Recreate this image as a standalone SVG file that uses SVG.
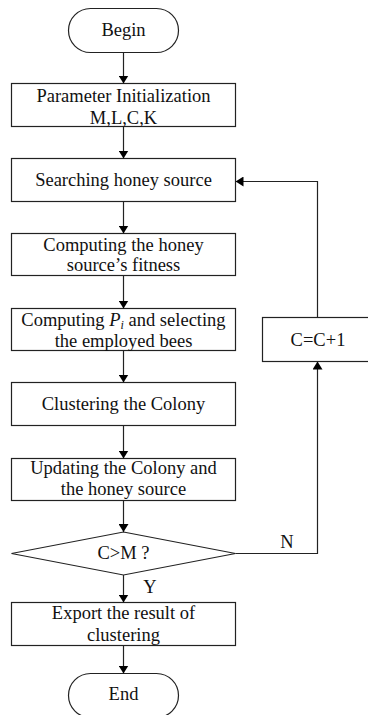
<svg xmlns="http://www.w3.org/2000/svg" width="368" height="715" viewBox="0 0 368 715">
<defs>
<marker id="ah" viewBox="0 0 8 10" refX="8" refY="5" markerWidth="8" markerHeight="10" markerUnits="userSpaceOnUse" orient="auto">
<path d="M0,0 L8,5 L0,10 Z" fill="#000"/>
</marker>
</defs>
<style>
.s{fill:#fff;stroke:#222;stroke-width:1.2}
.t{font-size:18.5px;fill:#111;text-anchor:middle}
.c{fill:none;stroke:#222;stroke-width:1.2;marker-end:url(#ah)}
.l{fill:none;stroke:#222;stroke-width:1.2}
</style>
<rect width="368" height="715" fill="#fff"/>
<g font-family="Liberation Serif, Times New Roman, serif">
<g id="begin"><rect class="s" x="68.5" y="8.5" width="110" height="44" rx="22" ry="22"/><text class="t" x="123.5" y="36">Begin</text></g>
<g id="init"><rect class="s" x="11.5" y="83.5" width="224" height="43"/><text class="t" x="123.5" y="102">Parameter Initialization</text><text class="t" x="123.5" y="124">M,L,C,K</text></g>
<g id="search"><rect class="s" x="11.5" y="158.5" width="224" height="43"/><text class="t" x="123.5" y="186">Searching honey source</text></g>
<g id="fitness"><rect class="s" x="11.5" y="233.5" width="224" height="42"/><text class="t" x="123.5" y="251">Computing the honey</text><text class="t" x="123.5" y="271">source’s fitness</text></g>
<g id="pi"><rect class="s" x="11.5" y="308.5" width="224" height="42"/><text class="t" x="123.5" y="326">Computing <tspan font-style="italic">P</tspan><tspan font-style="italic" font-size="12" dy="3">i</tspan><tspan dy="-3"> and selecting</tspan></text><text class="t" x="123.5" y="347">the employed bees</text></g>
<g id="cluster"><rect class="s" x="11.5" y="382.5" width="224" height="43"/><text class="t" x="123.5" y="410">Clustering the Colony</text></g>
<g id="update"><rect class="s" x="11.5" y="458.5" width="224" height="42"/><text class="t" x="123.5" y="474">Updating the Colony and</text><text class="t" x="123.5" y="495">the honey source</text></g>
<g id="decision"><polygon class="s" points="123.5,532 235.5,553.5 123.5,575 11.5,553.5"/><text class="t" x="123.5" y="559">C&gt;M ?</text></g>
<g id="export"><rect class="s" x="11.5" y="602.5" width="224" height="43"/><text class="t" x="123.5" y="619">Export the result of</text><text class="t" x="123.5" y="641">clustering</text></g>
<g id="end"><rect class="s" x="68.5" y="673.5" width="110" height="44" rx="22" ry="22"/><text class="t" x="123.5" y="700">End</text></g>
<g id="inc"><rect class="s" x="262.5" y="317.5" width="112" height="44"/><text class="t" x="318" y="346">C=C+1</text></g>
<g id="connectors">
<line class="c" x1="123.5" y1="52.5" x2="123.5" y2="83.5"/>
<line class="c" x1="123.5" y1="126.5" x2="123.5" y2="158.5"/>
<line class="c" x1="123.5" y1="201.5" x2="123.5" y2="233.5"/>
<line class="c" x1="123.5" y1="275.5" x2="123.5" y2="308.5"/>
<line class="c" x1="123.5" y1="350.5" x2="123.5" y2="382.5"/>
<line class="c" x1="123.5" y1="425.5" x2="123.5" y2="458.5"/>
<line class="c" x1="123.5" y1="500.5" x2="123.5" y2="532"/>
<line class="c" x1="123.5" y1="575" x2="123.5" y2="602.5"/>
<line class="c" x1="123.5" y1="645.5" x2="123.5" y2="673.5"/>
<polyline class="c" points="235.5,553.5 317.5,553.5 317.5,361.5"/>
<polyline class="c" points="317.5,317.5 317.5,181.5 235.5,181.5"/>
<text class="t" x="287" y="548">N</text>
<text class="t" x="150" y="593">Y</text>
</g>
</g>
</svg>
